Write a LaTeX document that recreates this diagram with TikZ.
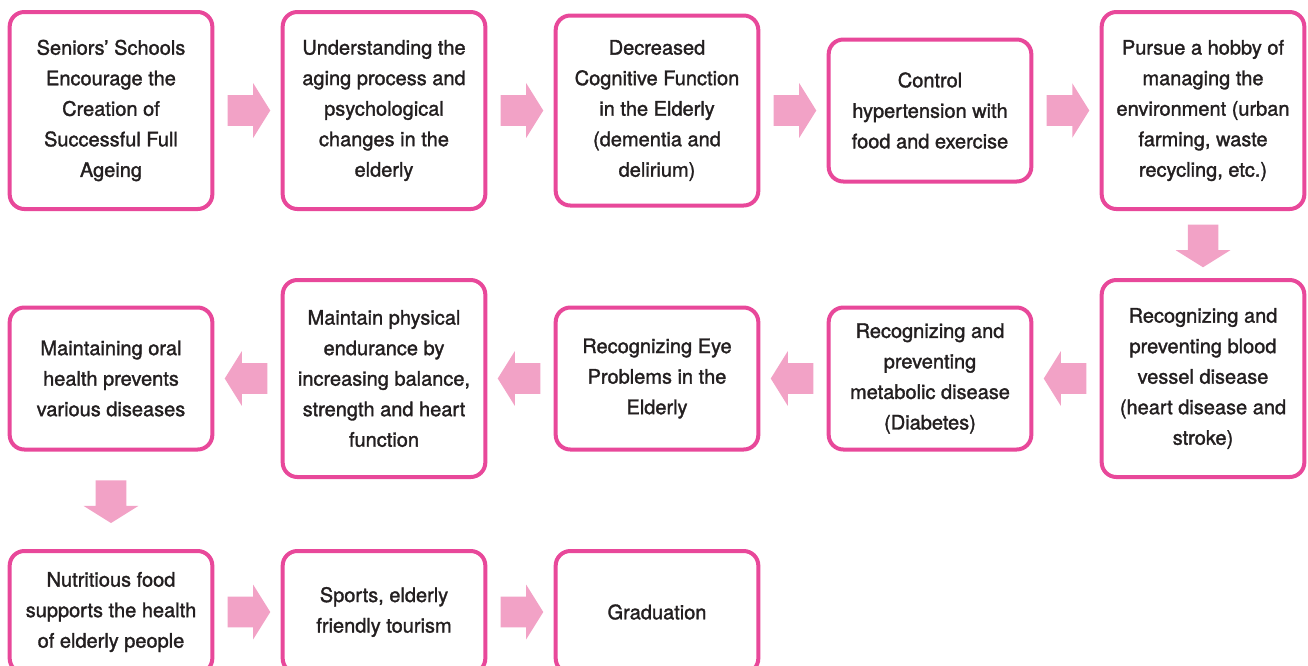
\documentclass[tikz,border=0pt]{standalone}
\usepackage{fontspec}
\setmainfont{TeX Gyre Heros}[UprightFeatures={FakeBold=1.5}]
\usetikzlibrary{shapes.arrows,calc}

\definecolor{framepink}{HTML}{E8489A}
\definecolor{arrowpink}{HTML}{F2A2C6}
\definecolor{textgray}{HTML}{231F20}

\begin{document}
\begin{tikzpicture}[x=0.75pt,y=-0.75pt]

  \useasboundingbox (0,0) rectangle (1308,665);

  % node styles
  \tikzstyle{Box}=[
  draw=framepink,
  line width=3pt,
  fill=white,
  text=textgray,
  font=\fontsize{15}{22.9}\selectfont,
  align=center,
  inner sep=0pt,
  minimum width=152pt,
  minimum height=147.75pt,
  shape=rectangle,rounded corners=11pt]

  \tikzstyle{Mid}=[minimum height=142.5pt]
  \tikzstyle{Low}=[minimum height=106.5pt]
  \tikzstyle{Foot}=[minimum height=91.5pt]

  % arrow node is pulled back a little so it sits in the gap
  \tikzstyle{Arrow}=[
  single arrow,
  fill=arrowpink,
  draw=none,
  inner xsep=0pt,
  inner ysep=11.25pt,
  minimum height=32pt,
  single arrow head extend=9pt,
  single arrow tip angle=116,
  xshift=-2.5pt]

  % first row, left to right
  \node[Box]     (S) at ( 111, 110.5) {Seniors’ Schools\\Encourage the\\Creation of\\Successful Full\\Ageing};
  \node[Box]     (U) at ( 384, 110.5) {Understanding the\\aging process and\\psychological\\changes in the\\elderly};
  \node[Box,Mid] (D) at ( 657, 110.5) {Decreased\\Cognitive Function\\in the Elderly\\(dementia and\\delirium)};
  \node[Box,Low] (H) at ( 930, 110.5) {Control\\hypertension with\\food and exercise};
  \node[Box]     (P) at (1203, 110.5) {Pursue a hobby of\\managing the\\environment (urban\\farming, waste\\recycling, etc.)};

  % second row, right to left
  \node[Box]     (V) at (1203, 378.5) {Recognizing and\\preventing blood\\vessel disease\\(heart disease and\\stroke)};
  \node[Box,Low] (M) at ( 930, 378.5) {Recognizing and\\preventing\\metabolic disease\\(Diabetes)};
  \node[Box,Low] (E) at ( 657, 378.5) {Recognizing Eye\\Problems in the\\Elderly};
  \node[Box]     (F) at ( 384, 378.5) {Maintain physical\\endurance by\\increasing balance,\\strength and heart\\function};
  \node[Box,Low] (O) at ( 111, 378.5) {Maintaining oral\\health prevents\\various diseases};

  % third row
  \node[Box,Foot] (N) at ( 111, 612) {Nutritious food\\supports the health\\of elderly people};
  \node[Box,Foot] (T) at ( 384, 612) {Sports, elderly\\friendly tourism};
  \node[Box,Foot] (G) at ( 657, 612) {Graduation};

  % block arrows between the boxes
  \node[Arrow] (SU) at ($(S.east)!0.5!(U.west)$) {};
  \node[Arrow] (UD) at ($(U.east)!0.5!(D.west)$) {};
  \node[Arrow] (DH) at ($(D.east)!0.5!(H.west)$) {};
  \node[Arrow] (HP) at ($(H.east)!0.5!(P.west)$) {};
  \node[rotate=-90,Arrow] (PV) at ($(P.south)!0.5!(V.north)$) {};
  \node[rotate=180,Arrow] (VM) at ($(V.west)!0.5!(M.east)$) {};
  \node[rotate=180,Arrow] (ME) at ($(M.west)!0.5!(E.east)$) {};
  \node[rotate=180,Arrow] (EF) at ($(E.west)!0.5!(F.east)$) {};
  \node[rotate=180,Arrow] (FO) at ($(F.west)!0.5!(O.east)$) {};
  \node[rotate=-90,Arrow] (ON) at ($(O.south)!0.5!(N.north)$) {};
  \node[Arrow] (NT) at ($(N.east)!0.5!(T.west)$) {};
  \node[Arrow] (TG) at ($(T.east)!0.5!(G.west)$) {};

\end{tikzpicture}
\end{document}
